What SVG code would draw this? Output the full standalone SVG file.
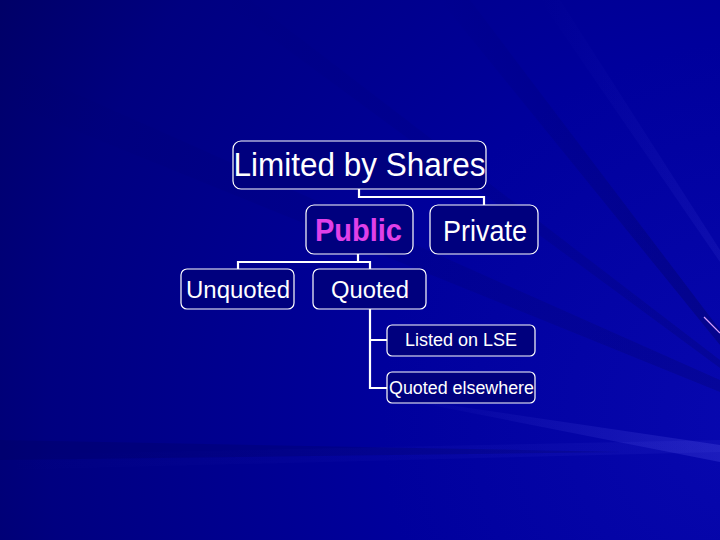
<svg xmlns="http://www.w3.org/2000/svg" width="720" height="540" viewBox="0 0 720 540">
<defs>
<radialGradient id="bg" cx="760" cy="420" r="950" gradientUnits="userSpaceOnUse">
<stop offset="0" stop-color="#0808b0"/>
<stop offset="0.4" stop-color="#00009c"/>
<stop offset="0.75" stop-color="#000080"/>
<stop offset="1" stop-color="#00005a"/>
</radialGradient>
<linearGradient id="streak" x1="0" y1="0" x2="1" y2="0">
<stop offset="0" stop-color="#5050e0" stop-opacity="0"/>
<stop offset="1" stop-color="#6060f0" stop-opacity="0.35"/>
</linearGradient>
<linearGradient id="dark" x1="0" y1="0" x2="1" y2="0">
<stop offset="0" stop-color="#000040" stop-opacity="0"/>
<stop offset="1" stop-color="#000040" stop-opacity="0.35"/>
</linearGradient>
</defs>
<style>
.box{fill:#00007e;stroke:#ffffff;stroke-width:1.2}
.t{font-family:"Liberation Sans",Arial,sans-serif;fill:#ffffff;text-anchor:middle}
.conn{fill:none;stroke:#ffffff;stroke-width:2.2}
</style>
<rect width="720" height="540" fill="url(#bg)"/>
<g id="background-streaks">
<polygon points="380,395 720,445 720,462" fill="url(#streak)" opacity="0.7"/>
<polygon points="0,455 720,440 720,452 0,470" fill="url(#streak)" opacity="0.25"/>
<polygon points="560,0 720,250 720,262 540,0" fill="url(#streak)" opacity="0.3"/>
<polygon points="470,0 720,330 720,345 440,0" fill="url(#dark)" opacity="0.8"/>
<polygon points="0,60 720,380 720,392 0,100" fill="url(#dark)" opacity="0.5"/>
<polygon points="250,0 720,360 720,368 220,0" fill="url(#dark)" opacity="0.5"/>
<polygon points="0,440 620,452 0,460" fill="#000050" opacity="0.2"/>
<line x1="704" y1="317" x2="720" y2="333" stroke="#d8a0ff" stroke-width="1.2"/>
</g>
<g id="connectors">
<path class="conn" d="M359,189 V197 H484 V205"/>
<path class="conn" d="M358,254 V262 H238 V269 M358,262 H370 V269"/>
<path class="conn" d="M370,309 V388 H387 M370,340 H387"/>
</g>
<g id="limited">
<rect class="box" x="233" y="141" width="253" height="48" rx="8"/>
<text class="t" x="359.5" y="176" font-size="34" textLength="252" lengthAdjust="spacingAndGlyphs">Limited by Shares</text>
</g>
<g id="public">
<rect class="box" x="306" y="205" width="107" height="49" rx="8"/>
<text class="t" x="358.5" y="241" font-size="31" font-weight="bold" style="fill:#e040e8" textLength="87" lengthAdjust="spacingAndGlyphs">Public</text>
</g>
<g id="private">
<rect class="box" x="430" y="205" width="108" height="49" rx="8"/>
<text class="t" x="485" y="241" font-size="30" textLength="84" lengthAdjust="spacingAndGlyphs">Private</text>
</g>
<g id="unquoted">
<rect class="box" x="181" y="269" width="113" height="40" rx="6"/>
<text class="t" x="238" y="298" font-size="23" textLength="104" lengthAdjust="spacingAndGlyphs">Unquoted</text>
</g>
<g id="quoted">
<rect class="box" x="313" y="269" width="113" height="40" rx="6"/>
<text class="t" x="370" y="298" font-size="23" textLength="78" lengthAdjust="spacingAndGlyphs">Quoted</text>
</g>
<g id="listed">
<rect class="box" x="387" y="325" width="148" height="31" rx="5"/>
<text class="t" x="461" y="346" font-size="18" textLength="112" lengthAdjust="spacingAndGlyphs">Listed on LSE</text>
</g>
<g id="elsewhere">
<rect class="box" x="387" y="372" width="148" height="31" rx="5"/>
<text class="t" x="461.5" y="394" font-size="18" textLength="145" lengthAdjust="spacingAndGlyphs">Quoted elsewhere</text>
</g>
</svg>
